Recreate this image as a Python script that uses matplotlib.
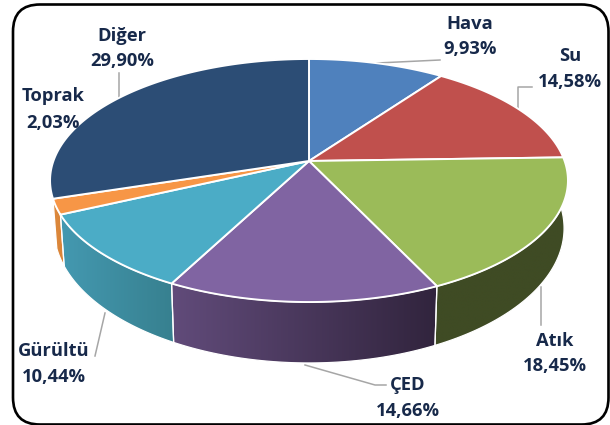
import numpy as np
import matplotlib
matplotlib.use("Agg")
import matplotlib.pyplot as plt
from matplotlib.patches import Polygon, FancyBboxPatch
from matplotlib.colors import LinearSegmentedColormap

categories = ["Hava", "Su", "Atık", "ÇED", "Gürültü", "Toprak", "Diğer"]
values = [9.93, 14.58, 18.45, 14.66, 10.44, 2.03, 29.90]
value_labels = ["9,93%", "14,58%", "18,45%", "14,66%", "10,44%", "2,03%", "29,90%"]
top_colors = ["#4f81bd", "#c0504d", "#9bbb59", "#8064a2", "#4bacc6", "#f79646", "#2c4d75"]
# wall gradient (left colour, right colour) for slices with a visible side
wall_colors = {"Atık": ("#3f4b24", "#3f4b24"), "ÇED": ("#614b7a", "#31243d"),
               "Gürültü": ("#4499b1", "#37808f"), "Toprak": ("#dd8a3e", "#d98236")}
label_pos = {"Hava": (470, 24, 49), "Su": (570, 56, 82), "Atık": (555, 341, 366),
             "ÇED": (408, 385, 411), "Gürültü": (54, 351, 377),
             "Toprak": (53, 96, 123), "Diğer": (122, 36, 61)}
leaders = [[(119, 73), (119, 98)], [(377, 63), (440, 60)],
           [(518, 110), (518, 87), (532, 87)], [(541, 287), (541, 325)],
           [(305, 365), (375, 385), (386, 385)], [(105, 313), (95, 356)]]

plt.rcParams["font.family"] = ["Open Sans", "DejaVu Sans"]
fig = plt.figure(figsize=(6.1, 4.25), dpi=100)
ax = fig.add_axes([0, 0, 1, 1])
ax.set_xlim(0, 610)
ax.set_ylim(425, 0)
ax.axis("off")

# perspective projection of the pie disc
CX, CY, A, B, K = 309, 161, 255.6, 118.4, 0.1605

def top_xy(theta):
    u, v = np.sin(theta), np.cos(theta)
    w = 1 + K * v
    return CX + A * u / w, CY - B * v / w

def bottom_xy(theta):
    x, y = top_xy(theta)
    return CX + 0.985 * (x - CX), 28.3 + 1.108 * y

frame = FancyBboxPatch((13, 4.5), 595.5, 420, boxstyle="round,pad=0,rounding_size=27",
                       fc="white", ec="black", lw=1.9, zorder=0)
ax.add_patch(frame)

for pts in leaders:
    xs, ys = zip(*pts)
    ax.plot(xs, ys, color="#a6a6a6", lw=1.1, zorder=1)

bounds = np.radians(np.concatenate([[0], np.cumsum(values)]) / sum(values) * 360)

# side walls with horizontal gradients
for i, name in enumerate(categories):
    if name not in wall_colors:
        continue
    th = np.linspace(bounds[i], bounds[i + 1], 80)
    tx, ty = top_xy(th)
    bx, by = bottom_xy(th)
    pts = np.vstack([np.column_stack([tx, ty]), np.column_stack([bx, by])[::-1]])
    poly = Polygon(pts, closed=True, fc="none", ec="none", zorder=2)
    ax.add_patch(poly)
    cmap = LinearSegmentedColormap.from_list(name, wall_colors[name])
    ext = (pts[:, 0].min(), pts[:, 0].max(), pts[:, 1].max(), pts[:, 1].min())
    im = ax.imshow(np.linspace(0, 1, 256)[None, :], cmap=cmap, extent=ext,
                   aspect="auto", zorder=2, interpolation="bilinear")
    im.set_clip_path(poly)
    edge = Polygon(pts, closed=True, fc="none", ec="white", lw=0.9, zorder=2.5)
    ax.add_patch(edge)

ax.set_xlim(0, 610)
ax.set_ylim(425, 0)

# top faces
for i, name in enumerate(categories):
    th = np.linspace(bounds[i], bounds[i + 1], 120)
    x, y = top_xy(th)
    pts = np.vstack([[CX, CY], np.column_stack([x, y])])
    ax.add_patch(Polygon(pts, closed=True, fc=top_colors[i], ec="white", lw=1.4,
                         joinstyle="round", zorder=3))

for name, lab in zip(categories, value_labels):
    x, y1, y2 = label_pos[name]
    for yy, s in ((y1, name), (y2, lab)):
        ax.text(x, yy, s, ha="center", va="center", fontsize=13.2, fontweight="bold",
                color="#17294a", zorder=5)

fig.savefig("out.png", dpi=100)
